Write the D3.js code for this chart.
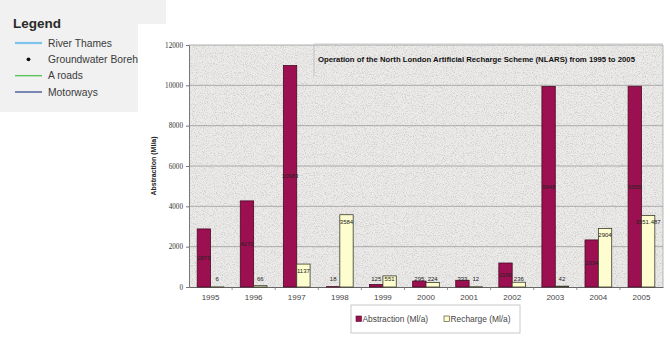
<!DOCTYPE html>
<html>
<head>
<meta charset="utf-8">
<script src="https://cdn.jsdelivr.net/npm/d3@7"></script>
<style>
  html, body { margin: 0; padding: 0; background: #ffffff; }
  svg { display: block; }
</style>
</head>
<body>
<svg id="chart" width="670" height="340"></svg>
<script>
// NLARS operation, 1995–2005
const years = ["1995","1996","1997","1998","1999","2000","2001","2002","2003","2004","2005"];
const abstraction = [2879, 4270, 10983, 18, 125, 295, 333, 1190, 9948, 2334, 9955];
const recharge    = [6, 66, 1137, 3584, 551, 224, 12, 236, 42, 2904, 3551.487];
const abstractionLabels = ["2879","4270","10983","18","125","295","333","1190","9948","2334","9955"];
const rechargeLabels    = ["6","66","1137","3584","551","224","12","236","42","2904","3551.487"];
const yTicks = [0, 2000, 4000, 6000, 8000, 10000, 12000];
const seriesNames = ["Abstraction (Ml/a)", "Recharge (Ml/a)"];
const mapLegendItems = ["River Thames", "Groundwater Boreholes", "A roads", "Motorways"];

const svg = d3.select("#chart");
const defs = svg.append("defs");

// chart panel occupies x >= 138, y >= 24; the map legend sits behind it
const panel = { x: 138, y: 24 };

// ---- map legend panel (left), trimmed where the chart panel overlaps ----
svg.append("path")
  .attr("d", `M0,0 H166 V${panel.y} H${panel.x} V112 H0 Z`)
  .attr("fill", "#f1f1f1");
defs.append("clipPath").attr("id", "legendClip")
  .append("rect").attr("x", 0).attr("y", 0).attr("width", panel.x).attr("height", 112);

const mapLegend = svg.append("g").attr("clip-path", "url(#legendClip)");
mapLegend.append("text").attr("x", 13).attr("y", 27.5).text("Legend")
  .attr("font-family", "Liberation Sans, Arial, sans-serif").attr("font-weight", "bold")
  .attr("font-size", 13.5).attr("fill", "#2a2a2a");

const legendRows = [
  { kind: "line", color: "#7cc3ee", width: 2.2 },
  { kind: "dot",  color: "#111111" },
  { kind: "line", color: "#5cc25c", width: 1.4 },
  { kind: "line", color: "#5b6ea3", width: 1.6 }
];
const rowY = d3.scalePoint().domain(mapLegendItems).range([43, 92]);
mapLegendItems.forEach((name, i) => {
  const yy = rowY(name);
  const r = legendRows[i];
  if (r.kind === "line") {
    mapLegend.append("line").attr("x1", 15).attr("x2", 42).attr("y1", yy).attr("y2", yy)
      .attr("stroke", r.color).attr("stroke-width", r.width);
  } else {
    mapLegend.append("circle").attr("cx", 28.5).attr("cy", yy).attr("r", 1.9).attr("fill", r.color);
  }
  mapLegend.append("text").attr("x", 48).attr("y", yy + 3.6).text(name)
    .attr("font-family", "Liberation Sans, Arial, sans-serif")
    .attr("font-size", 10.3).attr("fill", "#3a3a3a");
});

const plot = { left: 189, right: 663, top: 45, bottom: 287 };

// speckled plot background
const f = defs.append("filter").attr("id", "speckle").attr("x", 0).attr("y", 0)
  .attr("width", 1).attr("height", 1);
f.append("feTurbulence").attr("type", "fractalNoise").attr("baseFrequency", 0.9)
  .attr("numOctaves", 2).attr("seed", 7).attr("result", "noise");
f.append("feColorMatrix").attr("in", "noise").attr("type", "matrix")
  .attr("values", "0 0 0 0 0.62  0 0 0 0 0.62  0 0 0 0 0.6  3.2 0 0 0 -1.45").attr("result", "dots");
f.append("feFlood").attr("flood-color", "#ecebea").attr("result", "base");
f.append("feComposite").attr("in", "dots").attr("in2", "base").attr("operator", "over");

svg.append("rect").attr("x", plot.left).attr("y", plot.top)
  .attr("width", plot.right - plot.left).attr("height", plot.bottom - plot.top)
  .attr("fill", "#e9e9e8").attr("filter", "url(#speckle)");

const x0 = d3.scaleBand().domain(years).range([plot.left, plot.right]).padding(0);
const x1 = d3.scaleBand().domain(seriesNames)
  .range([x0.bandwidth() * 0.19, x0.bandwidth() * 0.81]).padding(0);
const y = d3.scaleLinear().domain([0, 12000]).range([plot.bottom, plot.top]);

// gridlines
svg.append("g").selectAll("line").data(yTicks.filter(t => t > 0)).join("line")
  .attr("x1", plot.left).attr("x2", plot.right)
  .attr("y1", d => y(d)).attr("y2", d => y(d))
  .attr("stroke", "#9c9c9c").attr("stroke-width", 0.8);
svg.append("line").attr("x1", plot.right).attr("x2", plot.right)
  .attr("y1", plot.top).attr("y2", plot.bottom).attr("stroke", "#a8a8a8").attr("stroke-width", 0.8);

// y axis
const yAxis = svg.append("g").attr("transform", `translate(${plot.left},0)`)
  .call(d3.axisLeft(y).tickValues(yTicks).tickSize(3).tickPadding(3).tickFormat(d3.format("d")));
yAxis.select(".domain").attr("stroke", "#777");
yAxis.selectAll(".tick line").attr("stroke", "#777");
yAxis.selectAll("text").attr("font-family", "Liberation Serif, Times New Roman, serif")
  .attr("font-size", 7.2).attr("fill", "#333");

svg.append("text")
  .attr("transform", `translate(156,${(plot.top + plot.bottom) / 2}) rotate(-90)`)
  .attr("text-anchor", "middle").text("Abstraction (Ml/a)")
  .attr("font-family", "Liberation Sans, Arial, sans-serif").attr("font-weight", "bold")
  .attr("font-size", 7).attr("fill", "#222");

// x axis
const xAxis = svg.append("g").attr("transform", `translate(0,${plot.bottom})`)
  .call(d3.axisBottom(x0).tickSize(0).tickPadding(7));
xAxis.select(".domain").attr("stroke", "#666");
xAxis.selectAll("text").attr("font-family", "Liberation Sans, Arial, sans-serif")
  .attr("font-size", 8).attr("fill", "#444");
// category separators
svg.append("g").selectAll("line").data(years.slice(1)).join("line")
  .attr("x1", d => x0(d)).attr("x2", d => x0(d))
  .attr("y1", plot.bottom).attr("y2", plot.bottom + 3)
  .attr("stroke", "#777").attr("stroke-width", 0.8);

// bars
const rows = years.map((yr, i) => ({
  year: yr,
  values: [
    { key: seriesNames[0], v: abstraction[i], label: abstractionLabels[i] },
    { key: seriesNames[1], v: recharge[i], label: rechargeLabels[i] }
  ]
}));
const colors = { [seriesNames[0]]: "#9c0f50", [seriesNames[1]]: "#fdfdcf" };
const strokes = { [seriesNames[0]]: "#4a0a26", [seriesNames[1]]: "#3a3a2a" };

const groups = svg.append("g").selectAll("g").data(rows).join("g")
  .attr("transform", d => `translate(${x0(d.year)},0)`);

groups.selectAll("rect").data(d => d.values).join("rect")
  .attr("x", d => x1(d.key)).attr("width", x1.bandwidth())
  .attr("y", d => y(d.v)).attr("height", d => y(0) - y(d.v))
  .attr("fill", d => colors[d.key]).attr("stroke", d => strokes[d.key]).attr("stroke-width", 0.8);

groups.selectAll("text").data(d => d.values).join("text")
  .attr("x", d => x1(d.key) + x1.bandwidth() / 2)
  .attr("y", d => {
    const top = y(d.v);
    const pos = d.key === seriesNames[0] ? (top + y(0)) / 2 : top + 7;
    return Math.min(pos, 279) + 2;
  })
  .attr("text-anchor", "middle").text(d => d.label)
  .attr("font-family", "Liberation Sans, Arial, sans-serif")
  .attr("font-size", 6).attr("fill", "#222");

// title box
svg.append("line").attr("x1", 314).attr("x2", 663).attr("y1", 44).attr("y2", 44)
  .attr("stroke", "#bdbdbd").attr("stroke-width", 0.8);
svg.append("line").attr("x1", 314).attr("x2", 314).attr("y1", 44).attr("y2", 76)
  .attr("stroke", "#bdbdbd").attr("stroke-width", 0.8);
svg.append("text").attr("x", 318).attr("y", 62)
  .text("Operation of the North London Artificial Recharge Scheme (NLARS) from 1995 to 2005")
  .attr("textLength", 317).attr("lengthAdjust", "spacingAndGlyphs")
  .attr("font-family", "Liberation Sans, Arial, sans-serif").attr("font-weight", "bold")
  .attr("font-size", 7).attr("fill", "#111");

// series legend
svg.append("rect").attr("x", 351).attr("y", 305).attr("width", 169).attr("height", 28)
  .attr("fill", "#ffffff").attr("stroke", "#bcbcbc").attr("stroke-width", 0.8);
const legX = d3.scaleOrdinal().domain(seriesNames).range([356, 444]);
seriesNames.forEach(name => {
  svg.append("rect").attr("x", legX(name)).attr("y", 316).attr("width", 5.5).attr("height", 5.5)
    .attr("fill", colors[name]).attr("stroke", strokes[name]).attr("stroke-width", 0.6);
  svg.append("text").attr("x", legX(name) + 6.5).attr("y", 322).text(name)
    .attr("font-family", "Liberation Sans, Arial, sans-serif")
    .attr("font-size", 8.4).attr("fill", "#444");
});
</script>
</body>
</html>
